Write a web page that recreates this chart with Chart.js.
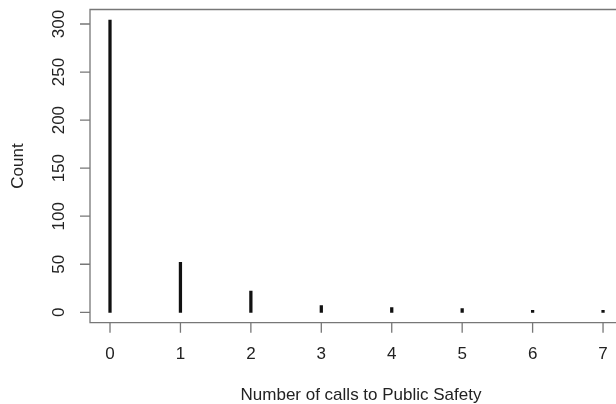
<!DOCTYPE html>
<html>
<head>
<meta charset="utf-8">
<script src="https://cdn.jsdelivr.net/npm/chart.js@4/dist/chart.umd.min.js"></script>
<style>
  html, body { margin: 0; padding: 0; background: #fff; }
  #wrap { width: 616px; height: 404px; }
</style>
</head>
<body>
<div id="wrap"><canvas id="countChart" width="616" height="404"></canvas></div>
<script>
// Calls to Public Safety, counts per number of calls
const calls = [0, 1, 2, 3, 4, 5, 6, 7];
const counts = [304, 52, 22, 7, 5, 4, 2, 2];
const xTicks = [0, 1, 2, 3, 4, 5, 6, 7];
const yTicks = [0, 50, 100, 150, 200, 250, 300];
const xTitle = 'Number of calls to Public Safety';
const yTitle = 'Count';

const FONT = '17px "Liberation Sans", Arial, sans-serif';

// draws the R style box, ticks and labels from the chart scales
const baseAxes = {
  id: 'baseAxes',
  afterDraw(chart) {
    const ctx = chart.ctx;
    const area = chart.chartArea;
    const xs = chart.scales.x;
    const ys = chart.scales.y;
    ctx.save();

    // box
    ctx.strokeStyle = '#777';
    ctx.lineWidth = 1.3;
    ctx.beginPath();
    ctx.moveTo(chart.width + 10, area.top);
    ctx.lineTo(area.left, area.top);
    ctx.lineTo(area.left, area.bottom);
    ctx.lineTo(chart.width + 10, area.bottom);
    ctx.stroke();

    // tick marks
    ctx.beginPath();
    yTicks.forEach(v => {
      const y = ys.getPixelForValue(v);
      ctx.moveTo(area.left - 10, y);
      ctx.lineTo(area.left, y);
    });
    xTicks.forEach(v => {
      const x = xs.getPixelForValue(v);
      ctx.moveTo(x, area.bottom);
      ctx.lineTo(x, area.bottom + 10);
    });
    ctx.stroke();

    ctx.fillStyle = '#222';
    ctx.font = FONT;
    ctx.textAlign = 'center';
    ctx.textBaseline = 'middle';

    xTicks.forEach(v => {
      ctx.fillText(String(v), xs.getPixelForValue(v), 354);
    });
    yTicks.forEach(v => {
      ctx.save();
      ctx.translate(59, ys.getPixelForValue(v));
      ctx.rotate(-Math.PI / 2);
      ctx.fillText(String(v), 0, 0);
      ctx.restore();
    });

    // axis titles
    ctx.fillText(xTitle, 361, 395);
    ctx.save();
    ctx.translate(18, 166);
    ctx.rotate(-Math.PI / 2);
    ctx.fillText(yTitle, 0, 0);
    ctx.restore();

    ctx.restore();
  }
};

new Chart(document.getElementById('countChart'), {
  type: 'bar',
  data: {
    labels: calls,
    datasets: [{
      label: yTitle,
      data: calls.map((c, i) => ({ x: c, y: counts[i] })),
      backgroundColor: '#111',
      barThickness: 2.6,
      borderWidth: 0
    }]
  },
  options: {
    responsive: false,
    animation: false,
    events: [],
    layout: {
      padding: { left: 90, top: 9.5, right: 0, bottom: 81.3 }
    },
    plugins: {
      legend: { display: false },
      tooltip: { enabled: false }
    },
    scales: {
      x: {
        type: 'linear',
        display: false,
        offset: false,
        grid: { offset: false },
        min: -0.284,
        max: 7.184
      },
      y: {
        type: 'linear',
        display: false,
        min: -10.8,
        max: 315.1
      }
    }
  },
  plugins: [baseAxes]
});
</script>
</body>
</html>
